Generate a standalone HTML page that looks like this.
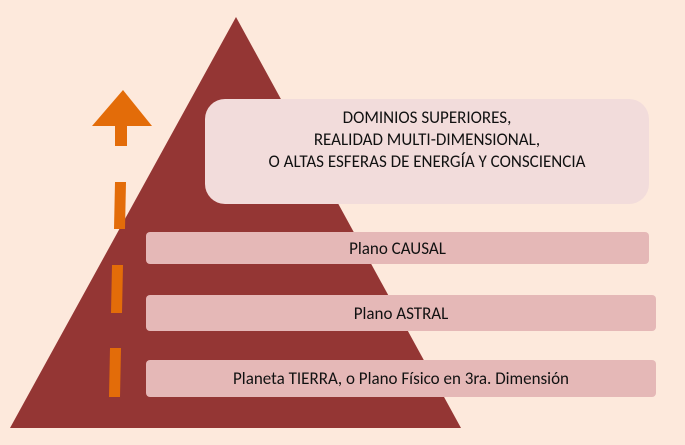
<!DOCTYPE html>
<html><head><meta charset="utf-8"><style>
html,body{margin:0;padding:0;}
body{width:685px;height:445px;background:#fde9dc;position:relative;overflow:hidden;font-family:Calibri,"Liberation Sans",sans-serif;color:#111;}
.b{position:absolute;display:flex;align-items:center;justify-content:center;text-align:center;font-size:17px;}
</style></head><body>
<svg width="685" height="445" style="position:absolute;left:0;top:0">
<polygon points="236,17 461,428 10,428" fill="#943634"/>
<polygon points="123,90 152,126 92,126" fill="#e36c09"/>
<polygon points="115,125 127,125 127,146 115,146" fill="#e36c09"/>
<polygon points="115,182 126,182 125,229 114,229" fill="#e36c09"/>
<polygon points="112,265 123,265 122,313 111,313" fill="#e36c09"/>
<polygon points="110,348 121,348 120,397 109,397" fill="#e36c09"/>
</svg>
<div class="b" style="left:205px;top:99px;width:444px;height:105px;background:#f2dcdb;border-radius:20px;align-items:flex-start;line-height:22px;padding-top:8px;box-sizing:border-box;font-size:17px;">DOMINIOS SUPERIORES,<br>REALIDAD MULTI-DIMENSIONAL,<br>O ALTAS ESFERAS DE ENERGÍA Y CONSCIENCIA</div>
<div class="b" style="left:146px;top:232px;width:503px;height:32px;background:#e5b8b7;border-radius:4px;">Plano CAUSAL</div>
<div class="b" style="left:146px;top:295px;width:510px;height:36px;background:#e5b8b7;border-radius:4px;">Plano ASTRAL</div>
<div class="b" style="left:146px;top:360px;width:510px;height:37px;background:#e5b8b7;border-radius:4px;">Planeta TIERRA, o Plano Físico en 3ra. Dimensión</div>
</body></html>
